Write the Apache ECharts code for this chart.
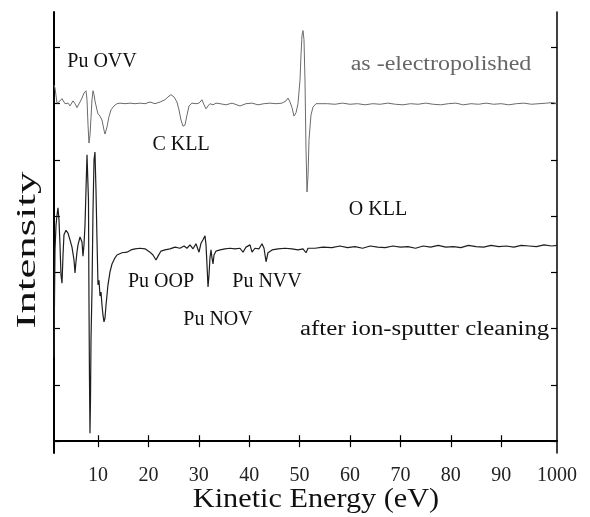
<!DOCTYPE html>
<html>
<head>
    <meta charset="utf-8">
    <title>AES spectra</title>
    <script src="https://cdn.jsdelivr.net/npm/echarts@6/dist/echarts.min.js"></script>
    <style>
        html, body { margin: 0; padding: 0; background: #fff; }
        #chart-container { width: 590px; height: 517px; }
    </style>
</head>
<body>
<div id="chart-container"></div>
<script>
    // 横轴刻度与标签
    var xTicks = [10, 20, 30, 40, 50, 60, 70, 80, 90];
    var xMin = 1.27, xMax = 101.07;
    var xLabels = ['10', '20', '30', '40', '50', '60', '70', '80', '90', '1000'];
    var yTicks = [0, 1, 2, 3, 4, 5, 6, 7];

    // as-electropolished (上方曲线)
    var electropolished = [
        [1.27,6.33],[1.47,6.28],[1.87,6.01],[2.46,6.05],[2.86,6.09],[3.45,6.00],[4.05,6.01],[4.44,5.96],
        [5.04,6.05],[5.44,6.00],[5.83,5.93],[6.43,6.03],[6.83,6.10],[7.22,6.19],[7.62,6.23],[7.82,6.07],
        [8.02,5.62],[8.21,5.30],[8.41,5.44],[8.61,5.75],[8.81,6.07],[9.01,6.23],[9.21,6.16],[9.40,6.05],
        [9.80,5.89],[10.0,5.82],[10.40,5.78],[10.79,5.71],[11.19,5.53],[11.39,5.46],[11.59,5.48],[11.79,5.59],
        [12.18,5.77],[12.58,5.89],[13.17,5.96],[13.77,6.00],[14.36,6.01],[15.36,6.00],[16.35,6.01],[17.34,6.00],
        [18.33,6.01],[19.33,6.00],[20.32,6.03],[21.31,6.00],[22.30,6.03],[23.29,6.07],[23.89,6.12],[24.48,6.16],
        [25.08,6.12],[25.67,6.03],[26.07,5.89],[26.47,5.71],[26.86,5.60],[27.26,5.62],[27.66,5.80],[28.06,5.96],
        [28.65,6.01],[29.44,6.00],[30.04,6.01],[30.63,6.07],[31.03,5.98],[31.43,5.91],[31.83,5.96],[32.22,6.00],
        [32.82,5.98],[33.41,6.01],[34.21,6.00],[35.40,5.98],[36.59,6.01],[38.17,5.96],[39.36,6.00],[40.56,6.01],
        [41.75,5.98],[42.94,6.00],[44.13,6.01],[45.32,6.00],[46.51,6.01],[47.30,6.05],[47.70,6.10],[48.10,6.03],
        [48.49,5.93],[48.89,5.78],[49.29,5.84],[49.68,6.00],[50.08,6.42],[50.28,6.87],[50.48,7.22],[50.67,7.30],
        [50.87,7.14],[51.07,6.42],[51.27,5.18],[51.47,4.43],[51.67,4.73],[51.87,5.36],[52.26,5.80],[52.66,5.94],
        [53.25,6.00],[54.05,6.00],[55.5,6.00],[57,5.99],[58.5,6.01],[60,5.99],[61.5,6.00],[63,5.98],[64.5,6.00],
        [66,5.99],[67.5,6.01],[69,5.99],[70.5,5.98],[72,6.00],[73.5,5.99],[75,6.01],[76.5,5.99],[78,5.98],
        [79.5,6.00],[81,6.01],[82.5,5.98],[84,6.00],[85.5,5.99],[87,6.01],[88.5,5.99],[90,6.00],[91.5,5.98],
        [93,6.00],[94.5,6.01],[96,5.99],[97.5,6.00],[99,6.01],[100.2,6.02],[101.07,6.00]
    ];

    // after ion-sputter cleaning (下方曲线)
    var sputtered = [
        [1.27,1.49],[1.37,2.51],[1.47,3.40],[1.67,3.84],[1.87,4.02],[2.06,4.15],[2.26,3.93],[2.46,3.49],
        [2.66,2.95],[2.86,2.81],[3.06,3.31],[3.25,3.67],[3.65,3.75],[4.05,3.70],[4.44,3.58],[4.84,3.45],
        [5.04,3.45],[5.24,3.22],[5.44,2.99],[5.63,3.19],[5.83,3.36],[6.03,3.49],[6.43,3.63],[6.63,3.65],
        [6.83,3.54],[7.02,3.29],[7.22,3.49],[7.42,3.84],[7.62,4.47],[7.82,5.09],[8.02,5.07],[8.11,4.29],
        [8.21,2.51],[8.31,1.09],[8.41,0.14],[8.51,0.73],[8.61,1.80],[8.81,2.69],[9.01,4.11],[9.21,5.00],
        [9.40,5.14],[9.60,4.47],[9.80,3.58],[10.0,2.78],[10.20,2.86],[10.40,2.58],[10.60,2.65],[10.79,2.42],
        [10.99,2.24],[11.19,2.12],[11.39,2.19],[11.59,2.42],[11.79,2.60],[11.98,2.78],[12.38,3.01],[12.78,3.15],
        [13.37,3.26],[13.77,3.31],[14.76,3.35],[15.75,3.36],[16.55,3.40],[17.34,3.42],[18.33,3.43],[19.33,3.42],
        [20.32,3.36],[20.91,3.31],[21.51,3.22],[21.91,3.29],[22.50,3.38],[23.29,3.40],[24.28,3.42],[25.28,3.45],
        [26.27,3.43],[27.06,3.47],[27.66,3.43],[28.25,3.49],[28.85,3.42],[29.44,3.51],[30.04,3.36],[30.44,3.52],
        [30.83,3.58],[31.23,3.65],[31.43,3.49],[31.63,3.13],[31.83,2.74],[32.02,2.95],[32.22,3.26],[32.42,3.40],
        [32.62,3.26],[32.82,3.15],[33.02,3.31],[33.41,3.38],[34.21,3.40],[35.20,3.42],[36.19,3.43],[37.18,3.42],
        [38.17,3.43],[38.77,3.36],[39.36,3.45],[40.16,3.49],[40.56,3.36],[41.15,3.43],[41.95,3.42],[42.54,3.51],
        [42.94,3.43],[43.34,3.19],[43.73,3.35],[44.53,3.40],[45.72,3.42],[47.11,3.43],[48.49,3.42],[49.68,3.40],
        [50.67,3.42],[51.27,3.35],[51.67,3.43],[53.05,3.43],[54.64,3.45],[56.4,3.44],[58,3.47],[59.5,3.44],
        [61,3.46],[62.5,3.43],[64,3.47],[65.5,3.45],[67,3.44],[68.5,3.47],[70,3.45],[71.5,3.46],[73,3.43],
        [74.5,3.47],[76,3.45],[77.5,3.48],[79,3.45],[80.5,3.46],[82,3.44],[83.5,3.48],[85,3.46],[86.5,3.45],
        [88,3.48],[89.5,3.46],[91,3.47],[92.5,3.45],[94,3.48],[95.5,3.47],[97,3.46],[98.5,3.49],[100,3.47],
        [101.07,3.48]
    ];

    var serif = '"Liberation Serif", "DejaVu Serif", serif';

    // 标注文字
    function label(text, x, y, size, color, sx, align) {
        return {
            type: 'text', x: x, y: y, scaleX: sx || 1,
            style: {
                text: text, font: size + 'px ' + serif, fill: color || '#111',
                align: align || 'center', verticalAlign: 'middle'
            }
        };
    }

    var myChart = echarts.init(document.getElementById('chart-container'));

    var tickStyle = { show: true, inside: true, length: 6, lineStyle: { color: '#000', width: 1.2 } };

    var option = {
        animation: false,
        grid: { left: 54, right: 33, top: 12, bottom: 64, outerBoundsMode: 'none' },
        xAxis: [
            {
                type: 'value', min: xMin, max: xMax, position: 'bottom',
                axisLine: { lineStyle: { color: '#000', width: 2 } },
                axisTick: Object.assign({ customValues: xTicks }, tickStyle),
                axisLabel: {
                    customValues: xTicks.concat([xMax]),
                    formatter: function (v) { return v > 95 ? xLabels[9] : xLabels[xTicks.indexOf(v)]; },
                    margin: 13, fontSize: 20, fontFamily: serif, color: '#222'
                },
                splitLine: { show: false }
            },
            {
                type: 'value', min: xMin, max: xMax, position: 'top',
                axisLine: { show: true, lineStyle: { color: '#000', width: 1.5 } },
                axisTick: Object.assign({ customValues: xTicks }, tickStyle),
                axisLabel: { show: false },
                splitLine: { show: false }
            }
        ],
        yAxis: [
            {
                type: 'value', min: -0.21, max: 7.63, position: 'left',
                axisLine: { show: true, lineStyle: { color: '#000', width: 2 } },
                axisTick: Object.assign({ customValues: yTicks }, tickStyle),
                axisLabel: { show: false },
                splitLine: { show: false }
            },
            {
                type: 'value', min: -0.21, max: 7.63, position: 'right',
                axisLine: { show: true, lineStyle: { color: '#000', width: 1.5 } },
                axisTick: Object.assign({ customValues: yTicks }, tickStyle),
                axisLabel: { show: false },
                splitLine: { show: false }
            }
        ],
        series: [
            {
                name: 'as-electropolished', type: 'line', data: electropolished,
                showSymbol: false, lineStyle: { color: '#6a6a6a', width: 1 }
            },
            {
                name: 'after ion-sputter cleaning', type: 'line', data: sputtered,
                showSymbol: false, lineStyle: { color: '#1e1e1e', width: 1.2 }
            }
        ],
        graphic: [
            label('Pu OVV', 102, 62, 20),
            label('C KLL', 181, 145, 20),
            label('as -electropolished', 441, 65, 20, '#666', 1.2),
            label('O KLL', 378, 210, 20),
            label('Pu OOP', 161, 282, 20),
            label('Pu NVV', 267, 282, 20),
            label('Pu NOV', 218, 320, 20),
            label('after ion-sputter cleaning', 300, 330, 20, '#111', 1.24, 'left'),
            label('Kinetic Energy (eV)', 316, 500, 27, '#111', 1.12),
            {
                type: 'text', x: 28, y: 250, rotation: Math.PI / 2, scaleX: 1.6,
                style: { text: 'Intensity', font: '28px ' + serif, fill: '#111', align: 'center', verticalAlign: 'middle' }
            }
        ]
    };

    myChart.setOption(option);
</script>
</body>
</html>
